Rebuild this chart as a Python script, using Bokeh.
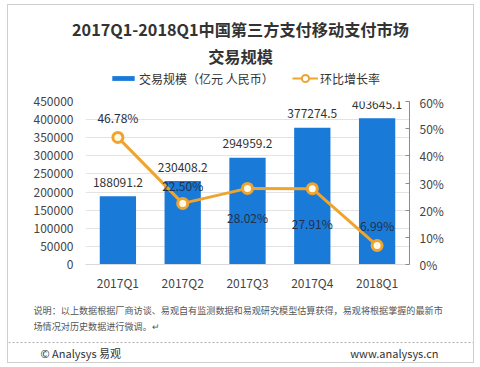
from bokeh.plotting import figure
from bokeh.layouts import column
from bokeh.models import (Range1d, FactorRange, LinearAxis, FixedTicker, PrintfTickFormatter,
                          NumeralTickFormatter, Label, Legend, LegendItem, ColumnDataSource, Span)
from bokeh.core.properties import value
from bokeh.embed import file_html
from bokeh.resources import INLINE

# ---- data ----
quarters = ["2017Q1", "2017Q2", "2017Q3", "2017Q4", "2018Q1"]
volume = [188091.2, 230408.2, 294959.2, 377274.5, 403645.1]   # 亿元
growth = [46.78, 22.50, 28.02, 27.91, 6.99]                    # %
volume_labels = ["188091.2", "230408.2", "294959.2", "377274.5", "403645.1"]
growth_labels = ["46.78%", "22.50%", "28.02%", "27.91%", "6.99%"]
left_ticks = [0, 50000, 100000, 150000, 200000, 250000, 300000, 350000, 400000, 450000]
right_ticks = [0, 10, 20, 30, 40, 50, 60]

# ---- layout/style (label offsets in px) ----
growth_label_dy = [-20, -18, 29, 35, -20]

FONT = "Noto Sans CJK SC"
BAR = "#1a7ad8"
ORANGE = "#f0a42e"
W = 465
NAN = float("nan")


def blank(h):
    f = figure(width=W, height=h, output_backend="svg", toolbar_location=None,
               x_axis_type=None, y_axis_type=None, x_range=Range1d(0, W), y_range=Range1d(0, h),
               min_border=0, min_border_left=0, min_border_right=0, min_border_top=0,
               min_border_bottom=0, frame_align=False)
    f.outline_line_color = None
    f.grid.grid_line_color = None
    return f


# ---------------- header ----------------
head = blank(88)
for txt, y in (("2017Q1-2018Q1中国第三方支付移动支付市场", 65), ("交易规模", 38)):
    head.add_layout(Label(x=232, y=y, x_units="screen", y_units="screen", text=txt,
                          text_align="center", text_baseline="middle", text_font=FONT,
                          text_font_size="16.2px", text_font_style="bold",
                          text_color="#333333"))

# legend swatch renderers (no drawable points)
lb = head.vbar(x=[NAN], top=[NAN], width=0.5, fill_color=BAR, line_color=None)
ll = head.line(x=[NAN], y=[NAN], line_color=ORANGE, line_width=2)
ls = head.scatter(x=[NAN], y=[NAN], size=8, fill_color="white", line_color=ORANGE,
                  line_width=2)

common = dict(orientation="horizontal", label_standoff=2, padding=0, margin=0, spacing=0,
              border_line_color=None, background_fill_alpha=0, label_text_font=FONT,
              label_text_font_size="12px", label_text_color="#333333", label_height=18)
leg1 = Legend(items=[LegendItem(label="交易规模（亿元 人民币）", renderers=[lb])],
              location=(101, 6), glyph_width=28, glyph_height=6, **common)
leg2 = Legend(items=[LegendItem(label="环比增长率", renderers=[ll, ls])],
              location=(284, 6), glyph_width=26, glyph_height=18, **common)
head.add_layout(leg1)
head.add_layout(leg2)

# ---------------- main chart ----------------
p = figure(width=W, height=200, output_backend="svg", toolbar_location=None,
           x_range=FactorRange(factors=quarters, range_padding=0),
           y_range=Range1d(0, 450000), frame_align=False,
           min_border_left=77, min_border_right=64, min_border_top=8, min_border_bottom=27)
p.extra_y_ranges = {"pct": Range1d(0, 60)}
p.outline_line_color = None

src = ColumnDataSource(dict(q=quarters, v=volume, g=growth, vl=volume_labels,
                            gl=growth_labels, dy=growth_label_dy))

p.vbar(x="q", top="v", width=0.56, source=src, fill_color=BAR, line_color=None)
p.text(x="q", y="v", text="vl", source=src, text_align="center", text_baseline="middle",
       y_offset=-14, text_font=value(FONT), text_font_size="12px", text_color="#333333")

p.line(x="q", y="g", source=src, y_range_name="pct", line_color=ORANGE, line_width=3)
p.scatter(x="q", y="g", source=src, y_range_name="pct", size=10, fill_color="#fffbea",
          line_color=ORANGE, line_width=3)
p.text(x="q", y="g", text="gl", source=src, y_range_name="pct", y_offset="dy",
       text_align="center", text_baseline="middle", text_font=value(FONT),
       text_font_size="12px", text_color="#22304a")

p.yaxis.ticker = FixedTicker(ticks=left_ticks)
p.yaxis.formatter = NumeralTickFormatter(format="0")
for ax in (p.yaxis[0], p.xaxis[0]):
    ax.major_label_text_font = FONT
    ax.major_label_text_font_size = "12px"
    ax.major_label_text_color = "#444444"
    ax.major_tick_line_color = None
    ax.minor_tick_line_color = None
    ax.major_tick_out = 0
    ax.major_tick_in = 0
    ax.minor_tick_out = 0
p.yaxis.axis_line_color = None
p.yaxis.major_label_standoff = 12
p.xaxis.axis_line_color = "#d9d9d9"
p.xaxis.major_label_standoff = 9

rax = LinearAxis(y_range_name="pct", ticker=FixedTicker(ticks=right_ticks),
                 formatter=PrintfTickFormatter(format="%d%%"))
rax.axis_line_color = "#8c8c8c"
rax.major_tick_line_color = "#8c8c8c"
rax.major_tick_in = 4
rax.major_tick_out = 0
rax.minor_tick_line_color = None
rax.minor_tick_out = 0
rax.major_label_standoff = 10
rax.major_label_text_font = FONT
rax.major_label_text_font_size = "12px"
rax.major_label_text_color = "#444444"
p.add_layout(rax, "right")

p.xgrid.grid_line_color = None
p.ygrid.grid_line_color = "#e3e3e3"

# ---------------- footer ----------------
foot = blank(69)
notes = ["说明：以上数据根据厂商访谈、易观自有监测数据和易观研究模型估算获得，易观将根据掌握的最新市",
         "场情况对历史数据进行微调。↵"]
for txt, y in zip(notes, (53, 37)):
    foot.add_layout(Label(x=25, y=y, x_units="screen", y_units="screen", text=txt,
                          text_align="left", text_baseline="middle", text_font=FONT,
                          text_font_size="9.1px", text_color="#555555"))
# dotted separator (decoration)
foot.add_layout(Span(location=20, dimension="width", line_color="#b0b0b0",
                     line_dash="2 2", line_width=1))
foot.add_layout(Label(x=32, y=10, x_units="screen", y_units="screen", text="© Analysys 易观",
                      text_align="left", text_baseline="middle", text_font=FONT,
                      text_font_size="11px", text_color="#333333"))
foot.add_layout(Label(x=430, y=10, x_units="screen", y_units="screen", text="www.analysys.cn",
                      text_align="right", text_baseline="middle", text_font=FONT,
                      text_font_size="11px", text_color="#333333"))

layout = column(head, p, foot, spacing=0,
                styles={"border": "1px solid #cfcfcf", "margin": "4px 0 0 7px"})

open("out.html", "w").write(file_html(layout, INLINE))
